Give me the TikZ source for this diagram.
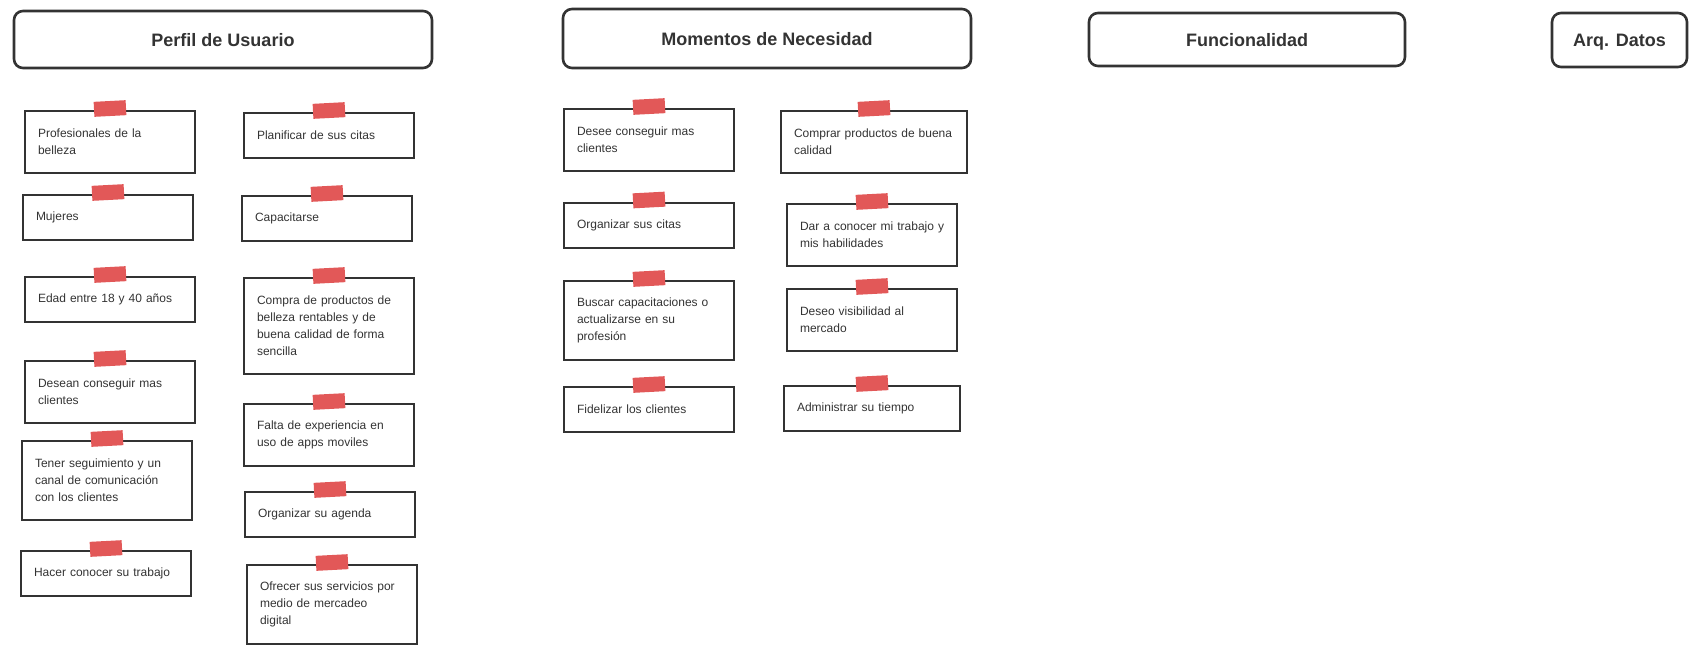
\documentclass[tikz,border=0pt]{standalone}
\usepackage{fontspec}
\setmainfont{Liberation Sans}
\usepackage{xcolor}
\usetikzlibrary{positioning}
\definecolor{ink}{HTML}{333333}
\definecolor{tapered}{HTML}{E25858}

\begin{document}
\begin{tikzpicture}[
  x=1pt,y=-1pt,
  header/.style={draw=ink, line width=2.6pt, rounded corners=9pt, text=ink,
    text height=13pt, text depth=0pt,
    font=\fontsize{18}{22}\selectfont\bfseries},
  card/.style={draw=ink, line width=2pt, text=ink, align=left,
    minimum width=170pt, text width=144pt, inner xsep=13pt, inner ysep=0pt,
    font=\fontsize{12}{17}\selectfont},
  tape/.style={fill=tapered, minimum width=32pt, minimum height=15pt,
    inner sep=0pt, rotate=3}
]
\useasboundingbox (0,0) rectangle (1704,659);

% column headers
\node[header, minimum width=418pt, minimum height=57pt] (perfil) at (223,39.5) {Perfil de Usuario};
\node[header, minimum width=408pt, minimum height=59pt] (momentos) at (767,38.5) {Momentos de Necesidad};
\node[header, minimum width=316pt, minimum height=53pt] (func) at (1247,39.5) {Funcionalidad};
\node[header, minimum width=135pt, minimum height=54pt] (arq) at (1619.5,40) {Arq. Datos};

% perfil de usuario
\node[card, minimum height=62pt] (prof) at (110,142) {Profesionales de la\\belleza};
\node[card, minimum height=45pt] (muj) at (108,217.5) {Mujeres};
\node[card, minimum height=45pt] (edad) at (110,299.5) {Edad entre 18 y 40 años};
\node[card, minimum height=62pt] (desean) at (110,392) {Desean conseguir mas\\clientes};
\node[card, minimum height=79pt] (tener) at (107,480.5) {Tener seguimiento y un\\canal de comunicación\\con los clientes};
\node[card, minimum height=45pt] (hacer) at (106,573.5) {Hacer conocer su trabajo};

\node[card, minimum height=45pt] (plan) at (329,135.5) {Planificar de sus citas};
\node[card, minimum height=45pt] (capa) at (327,218.5) {Capacitarse};
\node[card, minimum height=96pt] (compra) at (329,326) {Compra de productos de\\belleza rentables y de\\buena calidad de forma\\sencilla};
\node[card, minimum height=62pt] (falta) at (329,435) {Falta de experiencia en\\uso de apps moviles};
\node[card, minimum height=45pt] (agenda) at (330,514.5) {Organizar su agenda};
\node[card, minimum height=79pt] (ofrecer) at (332,604.5) {Ofrecer sus servicios por\\medio de mercadeo\\digital};

% momentos de necesidad
\node[card, minimum height=62pt] (desee) at (649,140) {Desee conseguir mas\\clientes};
\node[card, minimum height=45pt] (citas) at (649,225) {Organizar sus citas};
\node[card, minimum height=79pt] (buscar) at (649,320.5) {Buscar capacitaciones o\\actualizarse en su\\profesión};
\node[card, minimum height=45pt] (fidel) at (649,409.5) {Fidelizar los clientes};

\node[card, minimum width=186pt, text width=160pt, minimum height=62pt] (comprar) at (874,142) {Comprar productos de buena\\calidad};
\node[card, minimum height=62pt] (dar) at (872,235) {\mbox{Dar a conocer mi trabajo y}\\mis habilidades};
\node[card, minimum height=62pt] (deseo) at (872,320) {Deseo visibilidad al\\mercado};
\node[card, minimum width=176pt, text width=150pt, minimum height=45pt] (admin) at (872,408.5) {Administrar su tiempo};

% tapes
\foreach \n in {prof,muj,edad,desean,tener,hacer,plan,capa,compra,falta,agenda,ofrecer,
  desee,citas,buscar,fidel,comprar,dar,deseo,admin}
  \node[tape] (\n-tape) at ([yshift=1.5pt]\n.north) {};
\end{tikzpicture}
\end{document}
